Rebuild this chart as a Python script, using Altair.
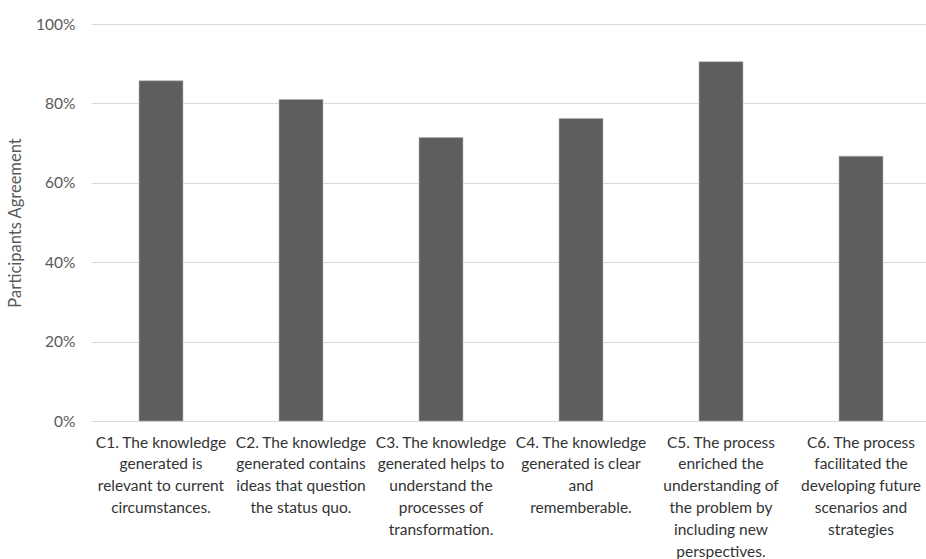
import altair as alt
import pandas as pd

# Criteria statements (lines of each axis label joined by "|")
categories = [
    "C1. The knowledge|generated is|relevant to current|circumstances.",
    "C2. The knowledge|generated contains|ideas that question|the status quo.",
    "C3. The knowledge|generated helps to|understand the|processes of|transformation.",
    "C4. The knowledge|generated is clear|and|rememberable.",
    "C5. The process|enriched the|understanding of|the problem by|including new|perspectives.",
    "C6. The process|facilitated the|developing future|scenarios and|strategies",
]
# Share of participants agreeing with each criterion
agreement = [0.857, 0.810, 0.714, 0.762, 0.905, 0.667]
y_ticks = [0, 0.2, 0.4, 0.6, 0.8, 1.0]

df = pd.DataFrame({"criterion": categories, "agreement": agreement})

FONT = "Lato"

chart = (
    alt.Chart(df)
    .mark_bar(color="#5e5e5e", stroke="#b0b0b0", strokeWidth=0.6)
    .encode(
        x=alt.X(
            "criterion:N",
            sort=None,
            title=None,
            scale=alt.Scale(range=[0, 840], paddingInner=0.686, paddingOuter=0.343),
            axis=alt.Axis(
                labelExpr="split(datum.label, '|')",
                labelAngle=0,
                labelBaseline="top",
                labelAlign="center",
                labelPadding=14,
                labelLineHeight=21.8,
                labelFontSize=15.5,
                labelFont=FONT,
                labelColor="#333333",
                labelLimit=0,
                labelOverlap=False,
                labelBound=False,
                domain=False,
                ticks=False,
                grid=False,
            ),
        ),
        y=alt.Y(
            "agreement:Q",
            title="Participants Agreement",
            scale=alt.Scale(domain=[0, 1], nice=False),
            axis=alt.Axis(
                values=y_ticks,
                format=".0%",
                labelFontSize=15.5,
                labelFont=FONT,
                labelColor="#595959",
                labelPadding=16,
                titleFontSize=16.5,
                titleFont=FONT,
                titleFontWeight="normal",
                titleColor="#595959",
                titlePadding=12,
                domain=False,
                ticks=False,
                grid=True,
                gridColor="#d9d9d9",
                gridWidth=1.2,
            ),
        ),
    )
    .properties(
        width=835,
        height=397,
        background="white",
        autosize=alt.AutoSizeParams(type="none"),
        padding={"left": 91, "top": 24, "right": 0, "bottom": 138},
    )
    .configure_view(strokeWidth=0)
)

chart.save("out.html", embed_options={"renderer": "svg", "actions": False})
